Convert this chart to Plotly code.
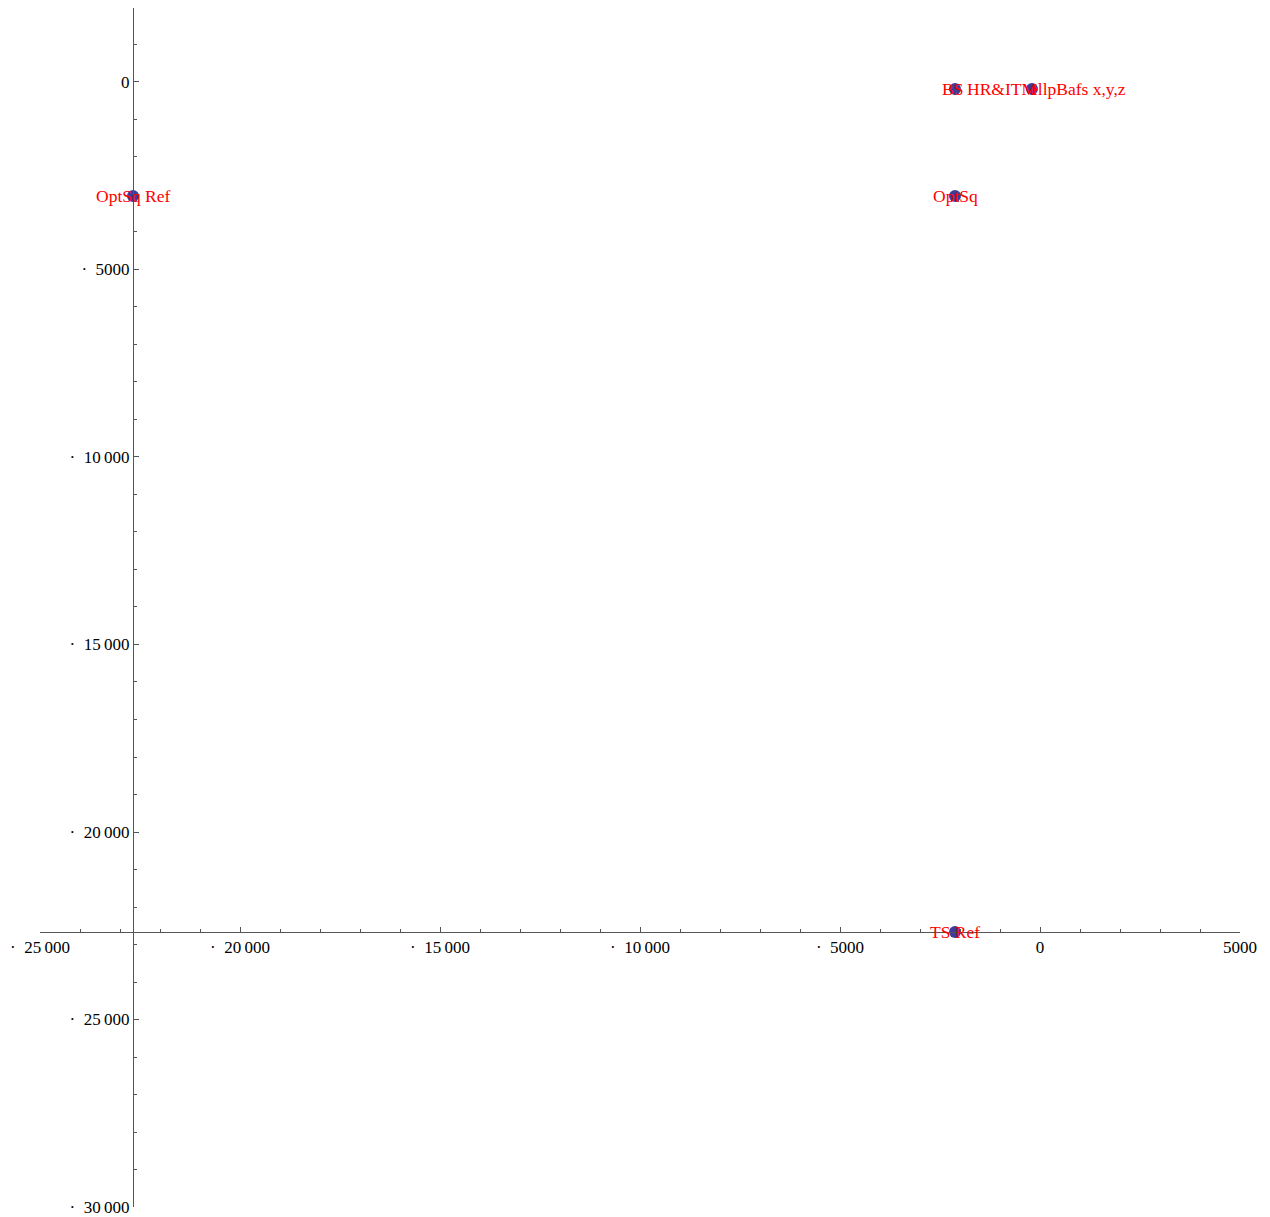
import plotly.graph_objects as go

# data
names = ["BS", "HR&ITM", "OptSq", "OptSq Ref", "TS Ref"]
xs = [-2125, -200, -2125, -22675, -2125]
ys = [-187, -187, -3040, -3040, -22667]

# label placement offsets (px, styling only)
label_shift = {"BS": -3, "HR&ITM": -30, "OptSq": 0, "OptSq Ref": 0, "TS Ref": 0}
extra_labels = [("ellpBafs x,y,z", 1, 46)]  # (text, index of point, xshift)

T = "\u2009"
x_ticks = [-25000, -20000, -15000, -10000, -5000, 0, 5000]
x_ticktext = ["·  25" + T + "000", "·  20" + T + "000", "·  15" + T + "000",
              "·  10" + T + "000", "·  5000", "0", "5000"]
y_ticks = [0, -5000, -10000, -15000, -20000, -25000, -30000]
y_ticktext = ["0", "·  5000", "·  10" + T + "000", "·  15" + T + "000",
              "·  20" + T + "000", "·  25" + T + "000", "·  30" + T + "000"]

xmin, xmax = -25000, 5000
ymin, ymax = -30000, 1973
x_cross = xs[3]
y_cross = ys[4]

font = "Liberation Serif, Times New Roman, serif"

fig = go.Figure()
fig.add_trace(go.Scatter(x=xs, y=ys, mode="markers",
                         marker=dict(size=12, color="#3d3d99"),
                         hoverinfo="skip", showlegend=False))

for n, x, y in zip(names, xs, ys):
    fig.add_annotation(x=x, y=y, text=n, showarrow=False, xshift=label_shift[n],
                       font=dict(family=font, size=17.5, color="red"))
for t, i, sh in extra_labels:
    fig.add_annotation(x=xs[i], y=ys[i], text=t, showarrow=False, xshift=sh,
                       font=dict(family=font, size=17.5, color="red"))

axis_common = dict(showgrid=False, zeroline=False, showline=True, linecolor="#555",
                   linewidth=1, ticks="inside", ticklen=5, tickcolor="#555",
                   anchor="free", automargin=False,
                   tickfont=dict(family=font, size=17, color="black"),
                   minor=dict(ticks="inside", ticklen=3, dtick=1000, tickcolor="#555"))

fig.update_layout(
    width=1262, height=1217,
    margin=dict(l=32, r=30, t=0, b=18),
    plot_bgcolor="white", paper_bgcolor="white",
    xaxis=dict(range=[xmin, xmax], tickvals=x_ticks, ticktext=x_ticktext,
               position=(y_cross - ymin) / (ymax - ymin), **axis_common),
    yaxis=dict(range=[ymin, ymax], tickvals=y_ticks, ticktext=y_ticktext,
               position=(x_cross - xmin) / (xmax - xmin), **axis_common),
)

fig.write_html("out.html")
